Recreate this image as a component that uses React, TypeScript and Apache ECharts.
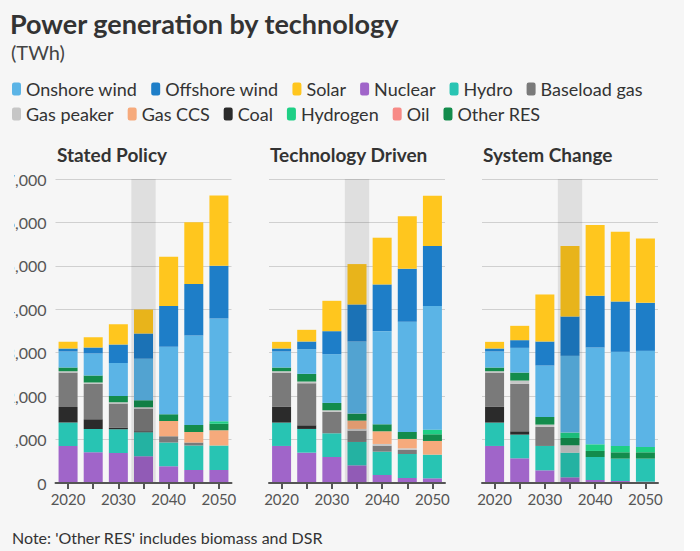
import React, { useEffect, useRef } from 'react';
import * as echarts from 'echarts';

const years = ['2020', '2025', '2030', '2035', '2040', '2045', '2050'];
const highlightYear = '2035';
const scenarios = ['Stated Policy', 'Technology Driven', 'System Change'];
const yMax = 7000;
const yStep = 1000;

// Stated Policy (TWh)
const spNuclear = [853, 707, 692, 615, 384, 300, 300];
const spHydro = [538, 538, 545, 553, 546, 561, 561];
const spCoal = [361, 223, 39, 23, 0, 0, 0];
const spBaseload = [791, 814, 553, 515, 146, 69, 0];
const spPeaker = [31, 31, 31, 38, 0, 0, 0];
const spCCS = [0, 0, 0, 0, 353, 246, 353];
const spOil = [0, 0, 0, 0, 0, 0, 0];
const spOtherRES = [85, 161, 146, 162, 154, 161, 150];
const spHydrogen = [0, 0, 0, 0, 0, 0, 55];
const spOnshore = [369, 507, 760, 953, 1552, 2060, 2367];
const spOffshore = [69, 139, 423, 583, 938, 1183, 1214];
const spSolar = [153, 238, 469, 554, 1137, 1422, 1621];

// Technology Driven (TWh)
const tdNuclear = [853, 699, 599, 407, 184, 115, 108];
const tdHydro = [538, 546, 546, 538, 538, 553, 545];
const tdCoal = [361, 84, 0, 0, 0, 0, 0];
const tdBaseload = [791, 968, 492, 261, 139, 93, 0];
const tdPeaker = [31, 39, 38, 39, 38, 38, 0];
const tdCCS = [0, 0, 0, 192, 292, 215, 315];
const tdOil = [0, 0, 0, 0, 0, 0, 0];
const tdOtherRES = [85, 177, 169, 161, 161, 162, 154];
const tdHydrogen = [0, 0, 0, 0, 0, 0, 107];
const tdOnshore = [369, 568, 1122, 1660, 2144, 2535, 2844];
const tdOffshore = [69, 177, 530, 853, 1076, 1222, 1383];
const tdSolar = [153, 269, 699, 930, 1076, 1207, 1160];

// System Change (TWh)
const scNuclear = [853, 569, 292, 131, 69, 46, 31];
const scHydro = [538, 545, 561, 568, 530, 515, 530];
const scCoal = [361, 77, 0, 0, 0, 0, 0];
const scBaseload = [791, 1091, 438, 0, 0, 0, 0];
const scPeaker = [31, 77, 54, 169, 0, 0, 0];
const scCCS = [0, 0, 0, 0, 0, 0, 0];
const scOil = [0, 0, 0, 0, 0, 0, 0];
const scOtherRES = [85, 184, 176, 169, 139, 146, 146];
const scHydrogen = [0, 0, 0, 123, 153, 146, 123];
const scOnshore = [369, 569, 1184, 1768, 2229, 2167, 2213];
const scOffshore = [69, 177, 553, 906, 1191, 1160, 1106];
const scSolar = [153, 330, 1083, 1622, 1629, 1606, 1483];

const legendRow1 = ['Onshore wind', 'Offshore wind', 'Solar', 'Nuclear', 'Hydro', 'Baseload gas'];
const legendRow2 = ['Gas peaker', 'Gas CCS', 'Coal', 'Hydrogen', 'Oil', 'Other RES'];

// stacking order, bottom to top
const techs = [
  { name: 'Nuclear', color: '#a065c9', data: [spNuclear, tdNuclear, scNuclear] },
  { name: 'Hydro', color: '#28c4b3', data: [spHydro, tdHydro, scHydro] },
  { name: 'Coal', color: '#2b2b2b', data: [spCoal, tdCoal, scCoal] },
  { name: 'Baseload gas', color: '#7a7a7a', data: [spBaseload, tdBaseload, scBaseload] },
  { name: 'Gas peaker', color: '#c6c6c6', data: [spPeaker, tdPeaker, scPeaker] },
  { name: 'Gas CCS', color: '#f6aa7c', data: [spCCS, tdCCS, scCCS] },
  { name: 'Oil', color: '#f78a86', data: [spOil, tdOil, scOil] },
  { name: 'Other RES', color: '#138c4c', data: [spOtherRES, tdOtherRES, scOtherRES] },
  { name: 'Hydrogen', color: '#1ecf85', data: [spHydrogen, tdHydrogen, scHydrogen] },
  { name: 'Onshore wind', color: '#5bb4e6', data: [spOnshore, tdOnshore, scOnshore] },
  { name: 'Offshore wind', color: '#1e7ec8', data: [spOffshore, tdOffshore, scOffshore] },
  { name: 'Solar', color: '#ffc61e', data: [spSolar, tdSolar, scSolar] },
];

const gridLefts = [55.5, 269, 482];
const FONT = 'Lato';

export default function App() {
  const ref = useRef<HTMLDivElement>(null);
  useEffect(() => {
    if (!ref.current) return;
    const chart = echarts.init(ref.current, null, { renderer: 'svg' });
    const barSeries: any[] = [];
    scenarios.forEach((_, gi) => {
      techs.forEach((t) => {
        barSeries.push({
          type: 'bar',
          name: t.name,
          xAxisIndex: gi,
          yAxisIndex: gi,
          stack: 'stack' + gi,
          barWidth: 19,
          itemStyle: { color: t.color },
          emphasis: { disabled: true },
          data: t.data[gi],
        });
      });
      barSeries.push({
        type: 'custom',
        name: 'highlight' + gi,
        xAxisIndex: gi,
        yAxisIndex: gi,
        z: 5,
        silent: true,
        data: [[highlightYear, yMax]],
        renderItem: (params: any, api: any) => {
          const top = api.coord([api.value(0), api.value(1)]);
          const bottom = api.coord([api.value(0), 0]);
          const w = api.size([1, 0])[0] * 0.97;
          return {
            type: 'rect',
            shape: { x: top[0] - w / 2, y: top[1], width: w, height: bottom[1] - top[1] },
            style: { fill: 'rgba(0,0,0,0.09)' },
          };
        },
      });
    });

    const option: any = {
      animation: false,
      backgroundColor: 'transparent',
      textStyle: { fontFamily: FONT },
      title: [
        { text: 'Power generation by technology', left: 10, top: 10, padding: 0, textStyle: { fontFamily: FONT, fontSize: 27, fontWeight: 'bold', color: '#333' } },
        { text: '(TWh)', left: 11, top: 42, padding: 0, textStyle: { fontFamily: FONT, fontSize: 20, fontWeight: 'normal', color: '#444' } },
        ...scenarios.map((s, i) => ({
          text: s, left: [57, 270, 483][i], top: 145, padding: 0,
          textStyle: { fontFamily: FONT, fontSize: 19, fontWeight: 'bold', color: '#333' },
        })),
        { text: "Note: 'Other RES' includes biomass and DSR", left: 12, top: 529, padding: 0, textStyle: { fontFamily: FONT, fontSize: 16, fontWeight: 'normal', color: '#333' } },
      ],
      legend: [legendRow1, legendRow2].map((row, i) => ({
        data: row,
        left: 12,
        top: 80 + i * 25,
        padding: 0,
        orient: 'horizontal',
        itemWidth: 9,
        itemHeight: 13,
        itemGap: 14,
        icon: 'roundRect',
        textStyle: { fontFamily: FONT, fontSize: 18, color: '#333' },
      })),
      grid: gridLefts.map((l) => ({ left: l, top: 179, width: 176, height: 304 })),
      xAxis: gridLefts.map((_, i) => ({
        type: 'category',
        gridIndex: i,
        data: years,
        axisLine: { lineStyle: { color: '#555', width: 2 } },
        axisTick: { show: true, alignWithLabel: true, interval: 0, length: 6, lineStyle: { color: '#555', width: 2 } },
        axisLabel: { interval: 1, color: '#555', fontSize: 15, margin: 8, fontFamily: FONT },
        z: 10,
      })),
      yAxis: gridLefts.map((_, i) => ({
        type: 'value',
        gridIndex: i,
        min: 0,
        max: yMax,
        interval: yStep,
        axisLine: { show: false },
        axisTick: { show: false },
        axisLabel: {
          show: i === 0,
          color: '#555',
          fontSize: 16,
          margin: 9,
          fontFamily: FONT,
          formatter: (v: number) => v.toLocaleString('en-US'),
        },
        splitLine: { lineStyle: { color: '#d0d0d0', width: 1 } },
      })),
      series: barSeries,
    };
    chart.setOption(option);
    return () => chart.dispose();
  }, []);

  return (
    <div
      style={{
        position: 'fixed',
        left: 0,
        top: 0,
        width: 700,
        height: 551,
        background: 'linear-gradient(to right, #f6f6f6 0, #f6f6f6 684px, #ffffff 684px)',
      }}
    >
      <div
        ref={ref}
        style={{
          position: 'absolute',
          left: 0,
          top: 0,
          width: 700,
          height: 551,
          clipPath: 'polygon(0 0, 700px 0, 700px 551px, 0 551px, 0 475px, 14px 475px, 14px 165px, 0 165px)',
        }}
      />
    </div>
  );
}
